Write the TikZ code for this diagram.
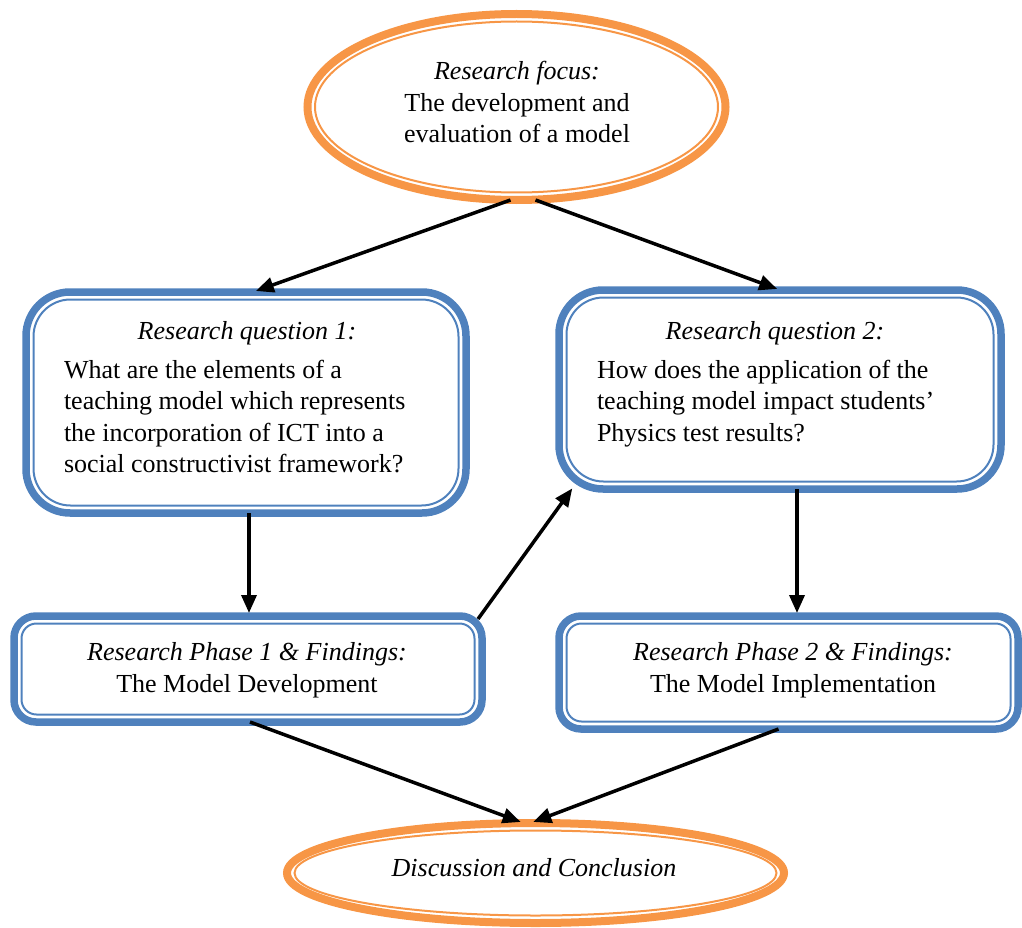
\documentclass[tikz,border=0pt]{standalone}
\usepackage{fontspec}
\setmainfont{Liberation Serif}
\usetikzlibrary{arrows.meta,shapes.geometric,calc}
\definecolor{bandblue}{HTML}{4F81BD}
\definecolor{bandorange}{HTML}{F79646}

\begin{document}
\begin{tikzpicture}[x=1pt,y=-1pt,
  every node/.style={inner sep=0pt, outer sep=0pt},
  txt/.style={font=\fontsize{26}{31.5}\selectfont},
  bluebox/.style={draw=bandblue, line width=7.5pt, rounded corners=#1, rectangle},
  blueinner/.style={draw=bandblue, line width=2pt, rounded corners=#1},
  orangeell/.style={draw=bandorange, line width=8pt, ellipse},
  orangeinner/.style={draw=bandorange, line width=2pt},
  conn/.style={line width=3.5pt, -{Triangle[length=18pt,width=15pt]}, shorten >=3pt}]

\useasboundingbox (0,0) rectangle (1022,928);

% --- top ellipse: research focus
\node[orangeell, minimum width=418pt, minimum height=186pt] (focus) at (516.5,107) {};
\draw[orangeinner] (focus.center) ellipse [x radius=201.5, y radius=85.5];
\node[txt, align=center] (focustxt) at (517,102)
  {\textit{Research focus:}\\The development and\\evaluation of a model};

% --- research question boxes
\node[bluebox=44pt, minimum width=440pt, minimum height=221pt] (rq1) at (246,402.5) {};
\draw[blueinner=37pt] ($(rq1.north west)+(7.5,7.5)$) rectangle ($(rq1.south east)+(-7.5,-7.5)$);
\node[txt] (rq1title) at (247,333) {\textit{Research question 1:}};
\node[txt, align=left, anchor=north west] (rq1txt) at (64,360)
  {What are the elements of a\\teaching model which represents\\the incorporation of ICT into a\\social constructivist framework?};

\node[bluebox=44pt, minimum width=442pt, minimum height=199pt] (rq2) at (780,389.5) {};
\draw[blueinner=37pt] ($(rq2.north west)+(7.5,7.5)$) rectangle ($(rq2.south east)+(-7.5,-7.5)$);
\node[txt] (rq2title) at (775,333) {\textit{Research question 2:}};
\node[txt, align=left, anchor=north west] (rq2txt) at (597,360)
  {How does the application of the\\teaching model impact students'\\Physics test results?};

% --- research phase boxes
\node[bluebox=22pt, minimum width=468pt, minimum height=106pt] (p1) at (248,669) {};
\draw[blueinner=15pt] ($(p1.north west)+(7.5,7.5)$) rectangle ($(p1.south east)+(-7.5,-7.5)$);
\node[txt, align=center] (p1txt) at (247,670)
  {\textit{Research Phase 1 \& Findings:}\\The Model Development};

\node[bluebox=22pt, minimum width=459pt, minimum height=113pt] (p2) at (788.5,672.5) {};
\draw[blueinner=15pt] ($(p2.north west)+(7.5,7.5)$) rectangle ($(p2.south east)+(-7.5,-7.5)$);
\node[txt, align=center] (p2txt) at (793,670)
  {\textit{Research Phase 2 \& Findings:}\\The Model Implementation};

% --- bottom ellipse
\node[orangeell, minimum width=497pt, minimum height=100pt] (concl) at (535.5,873) {};
\draw[orangeinner] (concl.center) ellipse [x radius=241, y radius=42.5];
\node[txt] (concltxt) at (534,868) {\textit{Discussion and Conclusion}};

% --- connectors
\draw[conn] ($(focus.south)+(-6,0)$) -- ($(rq1.north)+(7,0)$);
\draw[conn] ($(focus.south)+(19,0)$) -- (rq2.north);
\draw[conn] ($(rq1.south)+(3,0)$) -- ($(p1.north)+(1,0)$);
\draw[conn] ($(p1.north east)+(-4,3)$) -- ($(rq2.south west)+(15,-3)$);
\draw[conn] ($(rq2.south)+(17,0)$) -- ($(p2.north)+(8.5,0)$);
\draw[conn] ($(p1.south)+(2,0)$) -- ($(concl.north)+(-12,0)$);
\draw[conn] ($(p2.south)+(-10,0)$) -- ($(concl.north)+(-5,0)$);

\end{tikzpicture}
\end{document}
